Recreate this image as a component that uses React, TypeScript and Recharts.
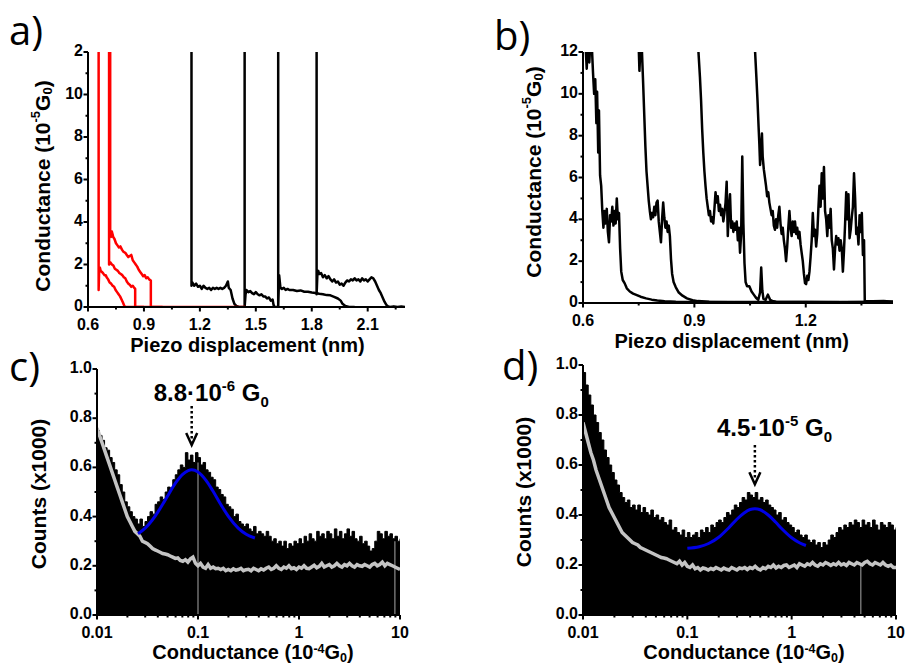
import React from 'react';
import { ComposedChart, Line, Area, XAxis, YAxis, ReferenceLine, ReferenceDot, Label } from 'recharts';

const FONT = '"Liberation Sans", Arial, Helvetica, sans-serif';
const LETTER_FONT = '"Open Sans", "Liberation Sans", sans-serif';

// ---------- panel a / b axes ----------
const aXMajor = [0.6, 0.9, 1.2, 1.5, 1.8, 2.1];
const aXMinor = [0.75, 1.05, 1.35, 1.65, 1.95, 2.25];
const aXLabels = ['0.6', '0.9', '1.2', '1.5', '1.8', '2.1'];
const bXMajor = [0.6, 0.9, 1.2];
const bXMinor = [0.75, 1.05, 1.35];
const bXLabels = ['0.6', '0.9', '1.2'];
const gYMajor = [0, 2, 4, 6, 8, 10, 12];
const gYMinor = [1, 3, 5, 7, 9, 11];
const aYLabels = ['0', '2', '4', '6', '8', '10', '2'];
const bYLabels = ['0', '2', '4', '6', '8', '10', '12'];

// ---------- panel a traces (x nm, G 1e-5 G0) ----------
const redA1 = [[0.657, 14], [0.657, 0.8], [0.66, 1.75], [0.664, 1.85], [0.668, 1.7], [0.673, 1.66], [0.68, 1.6], [0.688, 1.5], [0.695, 1.5], [0.7, 1.4], [0.708, 1.3], [0.716, 1.15], [0.724, 1.1], [0.732, 1.0], [0.74, 0.95], [0.748, 0.8], [0.756, 0.7], [0.764, 0.6], [0.772, 0.5], [0.78, 0.35], [0.788, 0.2], [0.795, 0.05], [0.8, 0], [1.444, 0]];
const redA2 = [[0.713, 14], [0.713, 2.0], [0.72, 2.1], [0.728, 2.0], [0.736, 1.95], [0.744, 1.8], [0.752, 1.75], [0.76, 1.7], [0.768, 1.6], [0.776, 1.55], [0.784, 1.5], [0.792, 1.4], [0.8, 1.35], [0.808, 1.2], [0.816, 1.1], [0.824, 1.05], [0.832, 0.95], [0.84, 1.0], [0.848, 0.9], [0.853, 0.85], [0.853, 0], [0.9, 0]];
const redA3 = [[0.719, 14], [0.719, 3.5], [0.724, 3.3], [0.728, 3.55], [0.735, 3.3], [0.742, 3.2], [0.75, 3.0], [0.758, 2.9], [0.766, 2.8], [0.774, 2.85], [0.782, 2.7], [0.79, 2.6], [0.8, 2.55], [0.808, 2.45], [0.816, 2.35], [0.824, 2.4], [0.832, 2.45], [0.84, 2.2], [0.848, 2.1], [0.856, 2.0], [0.864, 1.9], [0.872, 1.75], [0.88, 1.65], [0.888, 1.55], [0.896, 1.45], [0.904, 1.5], [0.912, 1.35], [0.92, 1.4], [0.928, 1.3], [0.937, 1.25], [0.937, 0], [1.0, 0]];
const blkA1 = [[1.155, 14], [1.155, 1.0], [1.16, 1.15], [1.17, 1.0], [1.18, 1.1], [1.19, 0.95], [1.2, 1.0], [1.21, 0.85], [1.22, 1.0], [1.23, 0.9], [1.24, 0.85], [1.25, 0.9], [1.26, 0.8], [1.27, 0.9], [1.28, 0.85], [1.29, 0.9], [1.3, 0.85], [1.31, 0.9], [1.32, 0.85], [1.33, 0.9], [1.34, 1.0], [1.35, 1.2], [1.355, 0.9], [1.365, 0.8], [1.375, 0.4], [1.385, 0.15], [1.395, 0.05], [1.41, 0], [1.44, 0]];
const blkA2 = [[1.44, 14], [1.44, 0], [1.445, 0.6], [1.45, 0.8], [1.46, 0.7], [1.47, 0.75], [1.48, 0.65], [1.49, 0.6], [1.5, 0.7], [1.51, 0.6], [1.52, 0.55], [1.53, 0.6], [1.54, 0.5], [1.55, 0.5], [1.56, 0.4], [1.57, 0.45], [1.58, 0.3], [1.59, 0.35], [1.595, 0.1], [1.6, 0], [1.62, 0]];
const blkA3 = [[1.62, 14], [1.62, 0], [1.625, 1.5], [1.632, 0.9], [1.64, 0.85], [1.65, 0.9], [1.66, 0.8], [1.67, 0.85], [1.68, 0.8], [1.7, 0.8], [1.72, 0.75], [1.74, 0.78], [1.76, 0.72], [1.78, 0.72], [1.8, 0.68], [1.82, 0.66], [1.84, 0.62], [1.86, 0.6], [1.88, 0.56], [1.9, 0.55], [1.92, 0.48], [1.94, 0.4], [1.955, 0.3], [1.965, 0.15], [1.98, 0.05], [2.0, 0], [2.03, 0]];
const blkA4 = [[1.826, 14], [1.826, 0.6], [1.83, 1.5], [1.835, 1.7], [1.84, 1.55], [1.85, 1.6], [1.86, 1.4], [1.87, 1.5], [1.88, 1.35], [1.89, 1.45], [1.9, 1.3], [1.91, 1.2], [1.92, 1.3], [1.93, 1.15], [1.94, 1.2], [1.95, 1.05], [1.96, 1.1], [1.97, 1.0], [1.98, 1.15], [1.99, 1.25], [2.0, 1.2], [2.01, 1.3], [2.02, 1.25], [2.03, 1.35], [2.04, 1.25], [2.05, 1.3], [2.06, 1.2], [2.07, 1.35], [2.08, 1.25], [2.09, 1.3], [2.1, 1.2], [2.11, 1.3], [2.12, 1.4], [2.13, 1.35], [2.14, 1.2], [2.15, 1.0], [2.16, 0.8], [2.17, 0.65], [2.18, 0.45], [2.19, 0.25], [2.2, 0.1], [2.21, 0.03], [2.22, 0], [2.24, 0.03], [2.26, 0], [2.28, 0.02], [2.3, 0]];

// ---------- panel b traces ----------
const trB1 = [[0.605, 14], [0.607, 12.3], [0.61, 11.2], [0.613, 12.3], [0.617, 11.5], [0.62, 12.5], [0.624, 12.2], [0.627, 11.0], [0.63, 10.0], [0.633, 10.7], [0.636, 8.6], [0.638, 10.1], [0.641, 7.2], [0.643, 9.2], [0.646, 6.1], [0.649, 5.6], [0.652, 4.4], [0.655, 3.6], [0.658, 4.4], [0.661, 3.8], [0.664, 4.5], [0.667, 3.4], [0.67, 2.9], [0.673, 4.2], [0.676, 3.9], [0.679, 4.6], [0.682, 3.7], [0.685, 4.4], [0.688, 3.8], [0.691, 5.0], [0.694, 4.0], [0.697, 4.3], [0.7, 2.6], [0.703, 1.5], [0.707, 1.1], [0.712, 0.95], [0.718, 0.7], [0.726, 0.55], [0.735, 0.45], [0.745, 0.38], [0.755, 0.3], [0.77, 0.22], [0.785, 0.16], [0.8, 0.12], [0.82, 0.08], [0.85, 0.06], [0.9, 0.05], [1.0, 0.04], [1.1, 0.05], [1.2, 0.04], [1.3, 0.05], [1.435, 0.05]];
const trB2 = [[0.748, 14], [0.75, 12.3], [0.752, 11.1], [0.755, 12.3], [0.758, 12.4], [0.762, 10.5], [0.765, 9.0], [0.768, 7.5], [0.771, 6.3], [0.774, 5.6], [0.777, 4.9], [0.78, 4.4], [0.783, 4.0], [0.786, 4.3], [0.789, 4.1], [0.792, 4.6], [0.795, 4.2], [0.798, 4.8], [0.801, 4.9], [0.804, 3.9], [0.807, 3.4], [0.81, 2.9], [0.813, 4.0], [0.816, 4.8], [0.819, 4.1], [0.822, 3.6], [0.825, 3.9], [0.828, 3.4], [0.831, 3.7], [0.834, 3.2], [0.837, 2.1], [0.84, 1.4], [0.844, 1.0], [0.85, 0.75], [0.858, 0.5], [0.868, 0.35], [0.88, 0.22], [0.895, 0.13], [0.91, 0.09], [0.94, 0.06], [1.0, 0.05], [1.1, 0.04], [1.2, 0.05], [1.3, 0.04], [1.435, 0.05]];
const trB3 = [[0.908, 14], [0.911, 12.0], [0.915, 10.8], [0.918, 9.7], [0.921, 8.3], [0.924, 7.2], [0.927, 6.3], [0.93, 5.6], [0.933, 5.0], [0.936, 4.6], [0.939, 4.2], [0.942, 4.4], [0.945, 3.9], [0.948, 4.1], [0.951, 3.8], [0.954, 4.5], [0.957, 5.3], [0.96, 4.8], [0.963, 5.1], [0.966, 4.4], [0.969, 4.7], [0.972, 4.2], [0.975, 4.5], [0.978, 3.9], [0.981, 4.3], [0.984, 4.8], [0.987, 5.8], [0.99, 3.2], [0.993, 4.5], [0.996, 5.2], [0.999, 3.6], [1.002, 3.9], [1.005, 3.4], [1.008, 3.8], [1.011, 3.5], [1.014, 3.9], [1.017, 3.0], [1.02, 3.6], [1.023, 2.4], [1.026, 3.3], [1.029, 7.0], [1.032, 3.8], [1.035, 1.9], [1.038, 1.0], [1.042, 0.8], [1.048, 0.8], [1.054, 0.55], [1.06, 0.4], [1.066, 0.25], [1.072, 0.15], [1.077, 0.5], [1.08, 1.7], [1.083, 0.6], [1.086, 0.2], [1.092, 0.15], [1.098, 0.4], [1.104, 0.15], [1.11, 0.1], [1.12, 0.06], [1.2, 0.05], [1.3, 0.04], [1.435, 0.05]];
const trB4 = [[1.06, 14], [1.063, 12.2], [1.067, 10.8], [1.07, 9.7], [1.073, 8.4], [1.075, 7.6], [1.077, 6.6], [1.079, 7.2], [1.082, 8.1], [1.084, 7.0], [1.087, 6.4], [1.09, 6.0], [1.093, 5.6], [1.096, 5.1], [1.099, 5.3], [1.102, 4.8], [1.105, 4.5], [1.108, 4.2], [1.111, 4.4], [1.114, 3.7], [1.117, 3.5], [1.12, 4.0], [1.123, 3.6], [1.126, 4.2], [1.129, 4.6], [1.132, 3.8], [1.135, 3.3], [1.138, 3.6], [1.141, 3.0], [1.144, 2.6], [1.147, 2.0], [1.15, 2.7], [1.153, 3.6], [1.156, 4.4], [1.159, 3.6], [1.162, 3.2], [1.165, 3.9], [1.168, 3.4], [1.171, 3.9], [1.174, 3.3], [1.177, 3.6], [1.18, 3.1], [1.183, 3.4], [1.186, 2.8], [1.189, 2.4], [1.192, 2.0], [1.195, 1.4], [1.198, 0.95], [1.201, 0.9], [1.204, 1.3], [1.207, 1.1], [1.21, 1.5], [1.213, 2.2], [1.216, 3.0], [1.219, 4.3], [1.222, 3.2], [1.225, 3.5], [1.228, 2.7], [1.231, 3.3], [1.234, 4.5], [1.237, 5.6], [1.24, 4.6], [1.243, 6.2], [1.246, 5.0], [1.249, 6.5], [1.252, 4.4], [1.255, 4.0], [1.258, 3.2], [1.261, 4.2], [1.264, 3.6], [1.267, 4.5], [1.27, 3.0], [1.273, 2.6], [1.276, 1.6], [1.279, 2.6], [1.282, 3.2], [1.285, 2.8], [1.288, 3.1], [1.291, 2.5], [1.294, 3.0], [1.297, 2.6], [1.3, 1.5], [1.303, 2.5], [1.306, 3.8], [1.309, 5.3], [1.312, 4.0], [1.315, 5.2], [1.318, 3.1], [1.321, 3.5], [1.324, 4.1], [1.327, 4.6], [1.33, 6.2], [1.333, 5.0], [1.336, 3.3], [1.339, 3.6], [1.342, 2.8], [1.345, 4.2], [1.348, 3.4], [1.351, 4.3], [1.354, 2.3], [1.357, 3.0], [1.359, 0.1], [1.38, 0.08], [1.41, 0.1], [1.435, 0.06]];

// ---------- panels c / d histograms (log bins, 40 per decade from 0.01) ----------
const hXMajor = [0.01, 0.1, 1, 10];
const hXLabels = ['0.01', '0.1', '1', '10'];
const hXMinor = [0.02, 0.03, 0.04, 0.05, 0.06, 0.07, 0.08, 0.09, 0.2, 0.3, 0.4, 0.5, 0.6, 0.7, 0.8, 0.9, 2, 3, 4, 5, 6, 7, 8, 9];
const hYMajor = [0, 0.2, 0.4, 0.6, 0.8, 1.0];
const hYMinor = [0.1, 0.3, 0.5, 0.7, 0.9];
const hYLabels = ['0.0', '0.2', '0.4', '0.6', '0.8', '1.0'];

const blackC = [0.75, 0.73, 0.71, 0.68, 0.67, 0.64, 0.62, 0.59, 0.57, 0.53, 0.50, 0.46, 0.44, 0.42, 0.40, 0.39, 0.37, 0.39, 0.36, 0.38, 0.40, 0.42, 0.41, 0.45, 0.46, 0.48, 0.47, 0.50, 0.52, 0.51, 0.55, 0.57, 0.59, 0.61, 0.60, 0.66, 0.63, 0.65, 0.62, 0.66, 0.64, 0.61, 0.62, 0.59, 0.58, 0.56, 0.55, 0.52, 0.51, 0.49, 0.48, 0.45, 0.44, 0.43, 0.40, 0.41, 0.38, 0.37, 0.36, 0.37, 0.35, 0.34, 0.36, 0.33, 0.34, 0.33, 0.32, 0.34, 0.32, 0.30, 0.31, 0.29, 0.30, 0.28, 0.30, 0.27, 0.29, 0.28, 0.30, 0.29, 0.31, 0.29, 0.32, 0.30, 0.33, 0.31, 0.30, 0.34, 0.32, 0.33, 0.31, 0.34, 0.33, 0.31, 0.35, 0.32, 0.34, 0.31, 0.33, 0.35, 0.32, 0.34, 0.31, 0.30, 0.32, 0.29, 0.30, 0.28, 0.26, 0.27, 0.30, 0.34, 0.33, 0.31, 0.34, 0.32, 0.33, 0.31, 0.32, 0.30, 0.31];
const grayC = [0.76, 0.73, 0.70, 0.67, 0.64, 0.61, 0.58, 0.55, 0.52, 0.49, 0.46, 0.43, 0.40, 0.38, 0.36, 0.34, 0.33, 0.32, 0.30, 0.295, 0.29, 0.28, 0.27, 0.265, 0.26, 0.255, 0.25, 0.248, 0.245, 0.24, 0.235, 0.23, 0.232, 0.222, 0.218, 0.225, 0.215, 0.228, 0.235, 0.21, 0.20, 0.21, 0.195, 0.19, 0.205, 0.19, 0.195, 0.188, 0.19, 0.185, 0.19, 0.18, 0.185, 0.18, 0.188, 0.182, 0.185, 0.19, 0.18, 0.184, 0.186, 0.18, 0.19, 0.185, 0.18, 0.188, 0.183, 0.19, 0.195, 0.185, 0.19, 0.2, 0.19, 0.185, 0.195, 0.19, 0.2, 0.188, 0.192, 0.185, 0.195, 0.19, 0.2, 0.19, 0.188, 0.195, 0.202, 0.192, 0.198, 0.21, 0.195, 0.2, 0.205, 0.195, 0.2, 0.21, 0.2, 0.195, 0.205, 0.2, 0.21, 0.2, 0.195, 0.205, 0.2, 0.198, 0.205, 0.2, 0.195, 0.205, 0.21, 0.2, 0.205, 0.215, 0.2, 0.21, 0.205, 0.2, 0.195, 0.19, 0.185];
const blackD = [0.97, 0.92, 0.88, 0.84, 0.80, 0.77, 0.73, 0.70, 0.66, 0.63, 0.60, 0.57, 0.54, 0.52, 0.49, 0.47, 0.45, 0.46, 0.43, 0.44, 0.42, 0.44, 0.41, 0.43, 0.41, 0.40, 0.42, 0.39, 0.40, 0.38, 0.39, 0.37, 0.36, 0.38, 0.34, 0.35, 0.33, 0.32, 0.34, 0.31, 0.33, 0.31, 0.32, 0.33, 0.31, 0.34, 0.33, 0.35, 0.33, 0.36, 0.35, 0.37, 0.38, 0.37, 0.39, 0.41, 0.40, 0.42, 0.44, 0.43, 0.45, 0.47, 0.46, 0.49, 0.48, 0.47, 0.49, 0.46, 0.47, 0.45, 0.46, 0.44, 0.43, 0.42, 0.40, 0.41, 0.38, 0.39, 0.37, 0.36, 0.35, 0.33, 0.34, 0.32, 0.31, 0.32, 0.30, 0.29, 0.30, 0.28, 0.29, 0.27, 0.29, 0.28, 0.30, 0.32, 0.31, 0.33, 0.35, 0.34, 0.36, 0.35, 0.37, 0.36, 0.38, 0.37, 0.35, 0.38, 0.36, 0.37, 0.35, 0.38, 0.36, 0.34, 0.37, 0.36, 0.35, 0.37, 0.36, 0.34, 0.35];
const grayD = [0.77, 0.73, 0.69, 0.65, 0.62, 0.58, 0.55, 0.52, 0.49, 0.46, 0.43, 0.41, 0.39, 0.37, 0.35, 0.33, 0.32, 0.31, 0.30, 0.29, 0.285, 0.28, 0.27, 0.265, 0.26, 0.255, 0.25, 0.245, 0.24, 0.235, 0.23, 0.228, 0.225, 0.22, 0.215, 0.21, 0.205, 0.215, 0.2, 0.21, 0.195, 0.19, 0.2, 0.185, 0.19, 0.18, 0.188, 0.185, 0.18, 0.186, 0.182, 0.19, 0.185, 0.18, 0.188, 0.183, 0.18, 0.19, 0.185, 0.18, 0.188, 0.185, 0.19, 0.182, 0.19, 0.186, 0.195, 0.185, 0.18, 0.19, 0.185, 0.195, 0.19, 0.2, 0.188, 0.195, 0.19, 0.198, 0.2, 0.19, 0.195, 0.2, 0.19, 0.205, 0.2, 0.195, 0.205, 0.2, 0.21, 0.2, 0.195, 0.205, 0.2, 0.21, 0.205, 0.198, 0.205, 0.2, 0.21, 0.2, 0.205, 0.198, 0.21, 0.205, 0.2, 0.21, 0.205, 0.2, 0.21, 0.215, 0.205, 0.2, 0.21, 0.205, 0.2, 0.21, 0.2, 0.195, 0.2, 0.19, 0.19];

// Gaussian fits
const fitC = [[0.0255, 0.33], [0.03, 0.353], [0.035, 0.384], [0.04, 0.418], [0.045, 0.452], [0.05, 0.484], [0.06, 0.537], [0.07, 0.571], [0.08, 0.587], [0.0866, 0.59], [0.1, 0.581], [0.12, 0.547], [0.14, 0.505], [0.17, 0.446], [0.2, 0.401], [0.25, 0.353], [0.3, 0.328], [0.366, 0.313]];
const fitD = [[0.1, 0.267], [0.13, 0.273], [0.16, 0.286], [0.2, 0.311], [0.25, 0.349], [0.3, 0.384], [0.35, 0.408], [0.4, 0.422], [0.444, 0.425], [0.5, 0.421], [0.6, 0.399], [0.7, 0.372], [0.8, 0.346], [1.0, 0.309], [1.2, 0.288], [1.37, 0.278]];

const peakC = 0.0866;
const peakD = 0.444;

const binX = (i: number) => 0.01 * Math.pow(10, i / 40);
const histC = blackC.map((v, i) => ({ x: binX(i), black: v, gray: grayC[i] }));
const histD = blackD.map((v, i) => ({ x: binX(i), black: v, gray: grayD[i] }));
const pts = (a: number[][]) => a.map(([x, y]) => ({ x, y }));

type Side = 'left' | 'bottom' | 'top' | 'right';
const AXIS_LINE = { stroke: '#000', strokeWidth: 2 };
const TICK_FS = 16;
const XTITLE_FS = 20;

function makeTick(side: Side, majors: number[], labels: string[] | null) {
  return (props: any) => {
    const { x, y, payload } = props;
    const v = Number(payload.value);
    const idx = majors.findIndex((m) => Math.abs(m - v) <= Math.abs(m) * 1e-6 + 1e-9);
    const major = idx >= 0;
    const len = major ? 4.5 : 2.5;
    let x2 = x;
    let y2 = y;
    if (side === 'left' || side === 'right') x2 = x - len;
    else y2 = y + len;
    return (
      <g>
        <line x1={x} y1={y} x2={x2} y2={y2} stroke="#000" strokeWidth={2} />
        {major && labels && side === 'left' && (
          <text x={x - 5} y={y + 4} textAnchor="end" fontFamily={FONT} fontWeight="bold" fontSize={TICK_FS} fill="#000">
            {labels[idx]}
          </text>
        )}
        {major && labels && side === 'bottom' && (
          <text x={x} y={y + 22.5} textAnchor="middle" fontFamily={FONT} fontWeight="bold" fontSize={TICK_FS} fill="#000">
            {labels[idx]}
          </text>
        )}
      </g>
    );
  };
}

function yTitle(cx: number, cy: number, sup: string) {
  return () => (
    <text x={cx} y={cy} transform={`rotate(-90 ${cx} ${cy})`} textAnchor="middle" dominantBaseline="central" fontFamily={FONT} fontWeight="bold" fontSize={21} fill="#000">
      Conductance (10<tspan fontSize={13} dy={-7}>{sup}</tspan>
      <tspan dy={7}>G</tspan>
      <tspan fontSize={13} dy={5}>0</tspan>
      <tspan dy={-5}>)</tspan>
    </text>
  );
}

function countsTitle(cx: number, cy: number) {
  return () => (
    <text x={cx} y={cy} transform={`rotate(-90 ${cx} ${cy})`} textAnchor="middle" dominantBaseline="central" fontFamily={FONT} fontWeight="bold" fontSize={21} fill="#000">
      Counts (x1000)
    </text>
  );
}

function piezoTitle(cx: number, by: number) {
  return () => (
    <text x={cx} y={by} textAnchor="middle" fontFamily={FONT} fontWeight="bold" fontSize={XTITLE_FS} fill="#000">
      Piezo displacement (nm)
    </text>
  );
}

function condXTitle(cx: number, by: number) {
  return () => (
    <text x={cx} y={by} textAnchor="middle" fontFamily={FONT} fontWeight="bold" fontSize={XTITLE_FS} fill="#000">
      Conductance (10<tspan fontSize={12.5} dy={-6}>-4</tspan>
      <tspan dy={6}>G</tspan>
      <tspan fontSize={12.5} dy={3}>0</tspan>
      <tspan dy={-3}>)</tspan>
    </text>
  );
}

interface Frame {
  xDomain: [number, number];
  xMajor: number[];
  xMinor: number[];
  xLabels: string[];
  yDomain: [number, number];
  yMajor: number[];
  yMinor: number[];
  yLabels: string[];
  log?: boolean;
  yWidth: number;
  xHeight: number;
  xTitle: () => React.ReactElement;
  yTitleFn: () => React.ReactElement;
}

function frameAxes(f: Frame) {
  const xt = [...f.xMajor, ...f.xMinor].sort((a, b) => a - b);
  const yt = [...f.yMajor, ...f.yMinor].sort((a, b) => a - b);
  const scale = f.log ? 'log' : 'linear';
  return [
    <XAxis key="xb" xAxisId="b" orientation="bottom" type="number" dataKey="x" scale={scale} domain={f.xDomain} allowDataOverflow ticks={xt} interval={0} tickSize={0} tickMargin={0} tickLine={false} axisLine={AXIS_LINE} tick={makeTick('bottom', f.xMajor, f.xLabels)} height={f.xHeight}>
      <Label content={f.xTitle} />
    </XAxis>,
    <XAxis key="xt" xAxisId="t" orientation="top" type="number" dataKey="x" scale={scale} domain={f.xDomain} allowDataOverflow ticks={xt} interval={0} tickSize={0} tickMargin={0} tickLine={false} axisLine={AXIS_LINE} tick={makeTick('top', f.xMajor, null)} height={0} />,
    <YAxis key="yl" yAxisId="l" orientation="left" type="number" domain={f.yDomain} allowDataOverflow ticks={yt} interval={0} tickSize={0} tickMargin={0} tickLine={false} axisLine={AXIS_LINE} tick={makeTick('left', f.yMajor, f.yLabels)} width={f.yWidth}>
      <Label content={f.yTitleFn} />
    </YAxis>,
    <YAxis key="yr" yAxisId="r" orientation="right" type="number" domain={f.yDomain} allowDataOverflow ticks={yt} interval={0} tickSize={0} tickMargin={0} tickLine={false} axisLine={AXIS_LINE} tick={makeTick('right', f.yMajor, null)} width={0} />,
  ];
}

function traceLine(key: string, data: number[][], color: string) {
  return (
    <Line key={key} xAxisId="b" yAxisId="l" data={pts(data)} dataKey="y" type="linear" stroke={color} strokeWidth={2.5} dot={false} activeDot={false} isAnimationActive={false} strokeLinejoin="round" />
  );
}

function annotation(px: number, textY: number, lineTop: number, lineBot: number, tip: number, main: string, sup: string) {
  return [
    <ReferenceLine key="arr" xAxisId="b" yAxisId="l" segment={[{ x: px, y: lineTop }, { x: px, y: lineBot }]} stroke="#000" strokeWidth={2.5} strokeDasharray="2.5 2.5" />,
    <ReferenceDot key="head" xAxisId="b" yAxisId="l" x={px} y={tip} r={1} isFront shape={(p: any) => (
      <polyline points={`${p.cx - 5.5},${p.cy - 12} ${p.cx},${p.cy} ${p.cx + 5.5},${p.cy - 12}`} fill="none" stroke="#000" strokeWidth={2.5} />
    )} />,
    <ReferenceDot key="txt" xAxisId="b" yAxisId="l" x={px} y={textY} r={1} isFront shape={(p: any) => (
      <text x={p.cx - 38} y={p.cy} textAnchor="start" fontFamily={FONT} fontWeight="bold" fontSize={24} fill="#000">
        {main}
        <tspan fontSize={15} dy={-10}>{sup}</tspan>
        <tspan dy={10}> G</tspan>
        <tspan fontSize={15} dy={6}>0</tspan>
      </text>
    )} />,
  ];
}

function PanelA() {
  const f: Frame = {
    xDomain: [0.6, 2.3], xMajor: aXMajor, xMinor: aXMinor, xLabels: aXLabels,
    yDomain: [0, 12], yMajor: gYMajor, yMinor: gYMinor, yLabels: aYLabels,
    yWidth: 88, xHeight: 50, xTitle: piezoTitle(247.5, 351.5), yTitleFn: yTitle(42, 186, '-5'),
  };
  return (
    <ComposedChart width={450} height={360} margin={{ top: 52, right: 45, bottom: 3, left: 0 }}>
      {frameAxes(f)}
      {traceLine('b1', blkA1, '#000')}
      {traceLine('b2', blkA2, '#000')}
      {traceLine('b3', blkA3, '#000')}
      {traceLine('b4', blkA4, '#000')}
      {traceLine('r1', redA1, '#ff0000')}
      {traceLine('r2', redA2, '#ff0000')}
      {traceLine('r3', redA3, '#ff0000')}
    </ComposedChart>
  );
}

function PanelB() {
  const f: Frame = {
    xDomain: [0.6, 1.435], xMajor: bXMajor, xMinor: bXMinor, xLabels: bXLabels,
    yDomain: [0, 12], yMajor: gYMajor, yMinor: gYMinor, yLabels: bYLabels,
    yWidth: 133, xHeight: 50, xTitle: piezoTitle(281.7, 347.5), yTitleFn: yTitle(83, 172, '-5'),
  };
  return (
    <ComposedChart width={457} height={360} margin={{ top: 52, right: 14, bottom: 7, left: 0 }}>
      {frameAxes(f)}
      {traceLine('t1', trB1, '#000')}
      {traceLine('t2', trB2, '#000')}
      {traceLine('t3', trB3, '#000')}
      {traceLine('t4', trB4, '#000')}
    </ComposedChart>
  );
}

function HistPanel(props: {
  width: number; height: number; margin: any; yWidth: number; xHeight: number;
  hist: any[]; fit: number[][]; peak: number; textY: number; lineTop: number; lineBot: number; tip: number;
  main: string; sup: string; gaps: number[][]; xTitle: () => React.ReactElement; yTitleFn: () => React.ReactElement;
}) {
  const f: Frame = {
    xDomain: [0.01, 10], xMajor: hXMajor, xMinor: hXMinor, xLabels: hXLabels,
    yDomain: [0, 1], yMajor: hYMajor, yMinor: hYMinor, yLabels: hYLabels, log: true,
    yWidth: props.yWidth, xHeight: props.xHeight, xTitle: props.xTitle, yTitleFn: props.yTitleFn,
  };
  return (
    <ComposedChart width={props.width} height={props.height} margin={props.margin} data={props.hist}>
      {frameAxes(f)}
      <Area xAxisId="b" yAxisId="l" dataKey="black" type="stepAfter" stroke="#000" strokeWidth={1} fill="#000" fillOpacity={1} dot={false} activeDot={false} isAnimationActive={false} />
      {props.gaps.map(([gx, gy], i) => (
        <ReferenceLine key={'g' + i} xAxisId="b" yAxisId="l" segment={[{ x: gx, y: 0 }, { x: gx, y: gy }]} stroke="#8c8c8c" strokeWidth={1.2} />
      ))}
      <Line xAxisId="b" yAxisId="l" dataKey="gray" type="linear" stroke="#c4c4c4" strokeWidth={3.5} dot={false} activeDot={false} isAnimationActive={false} />
      <Line xAxisId="b" yAxisId="l" data={pts(props.fit)} dataKey="y" type="monotone" stroke="#0000e6" strokeWidth={3} dot={false} activeDot={false} isAnimationActive={false} />
      {annotation(props.peak, props.textY, props.lineTop, props.lineBot, props.tip, props.main, props.sup)}
    </ComposedChart>
  );
}

export default function App() {
  return (
    <div style={{ position: 'absolute', left: 0, top: 0, width: 907, height: 666, background: '#fff', overflow: 'hidden' }}>
      <div style={{ position: 'absolute', left: 0, top: 0 }}>
        <PanelA />
      </div>
      <div style={{ position: 'absolute', left: 450, top: 0 }}>
        <PanelB />
      </div>
      <div style={{ position: 'absolute', left: 0, top: 330 }}>
        <HistPanel width={450} height={336} margin={{ top: 39, right: 50, bottom: 1, left: 0 }} yWidth={97} xHeight={50}
          hist={histC} fit={fitC} peak={peakC} textY={0.871} lineTop={0.85} lineBot={0.705} tip={0.691}
          main="8.8·10" sup="-6" gaps={[[0.1, 0.62], [8.9, 0.3]]}
          xTitle={condXTitle(253, 329)} yTitleFn={countsTitle(38, 164)} />
      </div>
      <div style={{ position: 'absolute', left: 450, top: 330 }}>
        <HistPanel width={457} height={336} margin={{ top: 35, right: 11, bottom: 0, left: 0 }} yWidth={133} xHeight={51}
          hist={histD} fit={fitD} peak={peakD} textY={0.718} lineTop={0.68} lineBot={0.54} tip={0.523}
          main="4.5·10" sup="-5" gaps={[[4.6, 0.2]]}
          xTitle={condXTitle(294, 329)} yTitleFn={countsTitle(73, 162)} />
      </div>
      <svg width={907} height={666} style={{ position: 'absolute', left: 0, top: 0, pointerEvents: 'none' }}>
        <g fontFamily={LETTER_FONT} fontSize={40} fill="#000">
          <text x={9} y={45}>a)</text>
          <text x={494} y={50}>b)</text>
          <text x={9} y={381}>c)</text>
          <text x={502} y={380}>d)</text>
        </g>
      </svg>
    </div>
  );
}
